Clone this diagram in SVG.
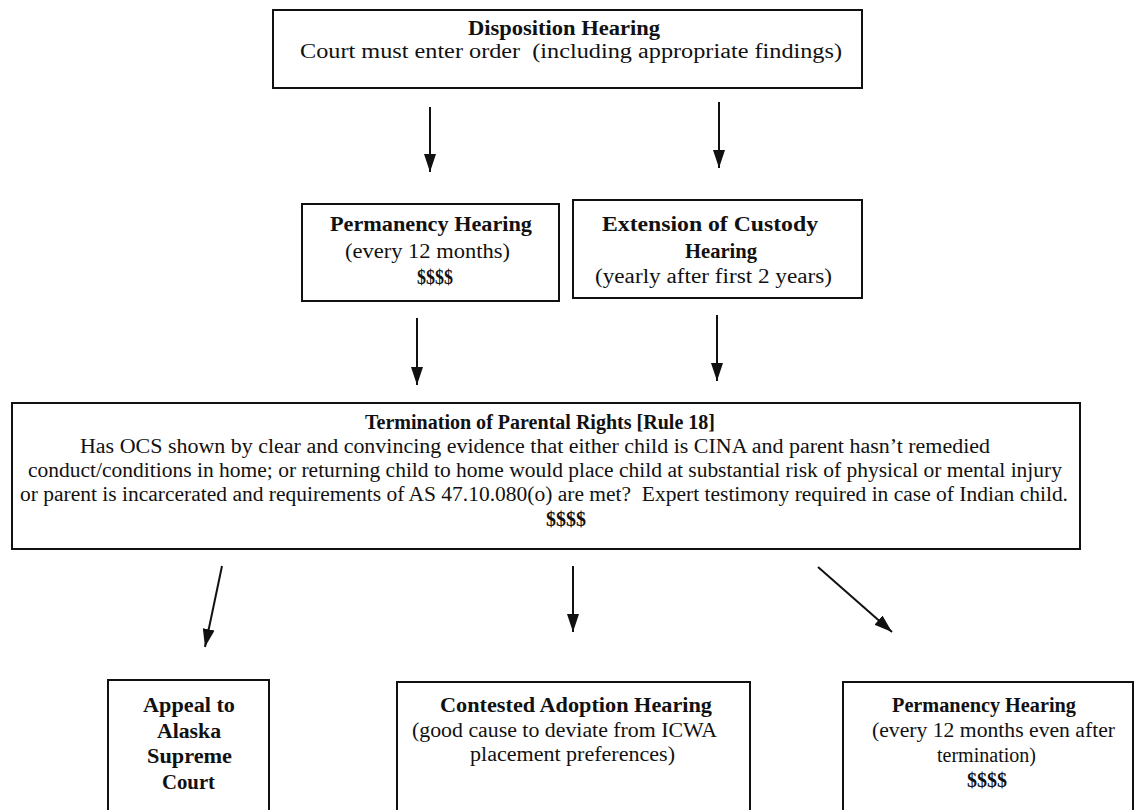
<svg xmlns="http://www.w3.org/2000/svg" width="1135" height="810" viewBox="0 0 1135 810">
<style>
.box{fill:none;stroke:#111;stroke-width:2}
.t{font-family:"Liberation Serif","Times New Roman",serif;font-size:20px;fill:#111}
.b{font-weight:bold}
.c{stroke:#111;stroke-width:2;fill:none}
</style>
<defs>
<marker id="ah" markerUnits="userSpaceOnUse" markerWidth="20" markerHeight="14" refX="18" refY="7" orient="auto">
<path d="M0,1 L18,7 L0,13 z" fill="#111"/>
</marker>
</defs>
<rect width="1135" height="810" fill="#fff"/>
<g id="connectors">
<line class="c" x1="430" y1="107" x2="430" y2="172" marker-end="url(#ah)"/>
<line class="c" x1="719" y1="102" x2="719" y2="168" marker-end="url(#ah)"/>
<line class="c" x1="417" y1="318" x2="417" y2="385" marker-end="url(#ah)"/>
<line class="c" x1="717" y1="315" x2="717" y2="381" marker-end="url(#ah)"/>
<line class="c" x1="222" y1="566" x2="205" y2="647" marker-end="url(#ah)"/>
<line class="c" x1="573" y1="566" x2="573" y2="632" marker-end="url(#ah)"/>
<line class="c" x1="818" y1="567" x2="892" y2="632" marker-end="url(#ah)"/>
</g>
<g id="disposition">
<rect class="box" x="273" y="10" width="589" height="78"/>
<text class="t b" x="468" y="35" textLength="192" lengthAdjust="spacingAndGlyphs">Disposition Hearing</text>
<text class="t" x="300" y="58" textLength="542" lengthAdjust="spacingAndGlyphs" xml:space="preserve">Court must enter order  (including appropriate findings)</text>
</g>
<g id="permanency1">
<rect class="box" x="302" y="204" width="257" height="97"/>
<text class="t b" x="330" y="231" textLength="202" lengthAdjust="spacingAndGlyphs">Permanency Hearing</text>
<text class="t" x="345" y="258" textLength="165" lengthAdjust="spacingAndGlyphs">(every 12 months)</text>
<text class="t b" x="417" y="284" textLength="36" lengthAdjust="spacingAndGlyphs">$$$$</text>
</g>
<g id="extension">
<rect class="box" x="573" y="200" width="289" height="98"/>
<text class="t b" x="602" y="231" textLength="216" lengthAdjust="spacingAndGlyphs">Extension of Custody</text>
<text class="t b" x="685" y="258" textLength="72" lengthAdjust="spacingAndGlyphs">Hearing</text>
<text class="t" x="595" y="283" textLength="237" lengthAdjust="spacingAndGlyphs">(yearly after first 2 years)</text>
</g>
<g id="termination">
<rect class="box" x="12" y="403" width="1068" height="146"/>
<text class="t b" x="365" y="429" textLength="350" lengthAdjust="spacingAndGlyphs">Termination of Parental Rights [Rule 18]</text>
<text class="t" x="80" y="453" textLength="910" lengthAdjust="spacingAndGlyphs">Has OCS shown by clear and convincing evidence that either child is CINA and parent hasn’t remedied</text>
<text class="t" x="28" y="477" textLength="1034" lengthAdjust="spacingAndGlyphs">conduct/conditions in home; or returning child to home would place child at substantial risk of physical or mental injury</text>
<text class="t" x="20" y="501" textLength="1048" lengthAdjust="spacingAndGlyphs" xml:space="preserve">or parent is incarcerated and requirements of AS 47.10.080(o) are met?  Expert testimony required in case of Indian child.</text>
<text class="t b" x="546" y="526" textLength="40" lengthAdjust="spacingAndGlyphs">$$$$</text>
</g>
<g id="appeal">
<rect class="box" x="108" y="680" width="161" height="140"/>
<text class="t b" x="143" y="712" textLength="92" lengthAdjust="spacingAndGlyphs">Appeal to</text>
<text class="t b" x="157" y="738" textLength="64" lengthAdjust="spacingAndGlyphs">Alaska</text>
<text class="t b" x="147" y="763" textLength="85" lengthAdjust="spacingAndGlyphs">Supreme</text>
<text class="t b" x="162" y="789" textLength="53" lengthAdjust="spacingAndGlyphs">Court</text>
</g>
<g id="adoption">
<rect class="box" x="397" y="682" width="353" height="140"/>
<text class="t b" x="440" y="712" textLength="272" lengthAdjust="spacingAndGlyphs">Contested Adoption Hearing</text>
<text class="t" x="412" y="737" textLength="305" lengthAdjust="spacingAndGlyphs">(good cause to deviate from ICWA</text>
<text class="t" x="470" y="761" textLength="205" lengthAdjust="spacingAndGlyphs">placement preferences)</text>
</g>
<g id="permanency2">
<rect class="box" x="843" y="682" width="290" height="140"/>
<text class="t b" x="892" y="712" textLength="184" lengthAdjust="spacingAndGlyphs">Permanency Hearing</text>
<text class="t" x="872" y="737" textLength="243" lengthAdjust="spacingAndGlyphs">(every 12 months even after</text>
<text class="t" x="937" y="762" textLength="99" lengthAdjust="spacingAndGlyphs">termination)</text>
<text class="t b" x="967" y="787" textLength="40" lengthAdjust="spacingAndGlyphs">$$$$</text>
</g>
</svg>
